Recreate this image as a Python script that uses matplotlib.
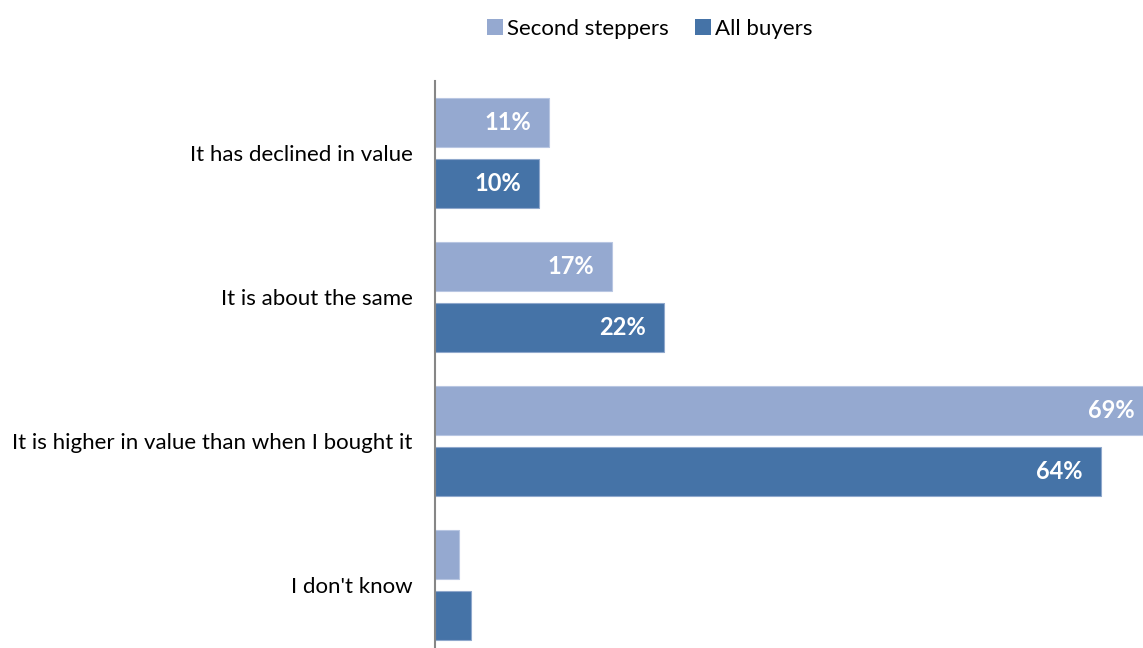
import numpy as np
import matplotlib.pyplot as plt
from matplotlib.patches import Patch

plt.rcParams['font.family'] = ['Lato', 'DejaVu Sans']

categories = [
    "It has declined in value",
    "It is about the same",
    "It is higher in value than when I bought it",
    "I don't know",
]
second_steppers = [11, 17, 69, 2.3]
all_buyers = [10, 22, 64, 3.5]
show_label = [True, True, True, False]

light = '#95A9D0'
dark = '#4573A7'

fig = plt.figure(figsize=(11.43, 6.48), dpi=100)
# axes runs off the right and bottom edges of the canvas
ax = fig.add_axes([435 / 1143, -9 / 648, 1 - 435 / 1143, 576 / 648])

y = np.arange(len(categories))
h = 0.34
off = 0.212
b1 = ax.barh(y - off, second_steppers, height=h, color=light,
             edgecolor='#B8C6E2', linewidth=0.8)
b2 = ax.barh(y + off, all_buyers, height=h, color=dark,
             edgecolor='#8FA8CC', linewidth=0.8)

for bars, vals in [(b1, second_steppers), (b2, all_buyers)]:
    for bar, v, show in zip(bars, vals, show_label):
        if not show:
            continue
        ax.annotate(f"{v:.0f}%", (v, bar.get_y() + bar.get_height() / 2),
                    xytext=(-13, 0), textcoords='offset points',
                    ha='right', va='center', color='white',
                    fontsize=17, fontweight='bold', annotation_clip=False)

ax.set_xlim(0, 708 / 10.4)
ax.set_ylim(3.5, -0.5)
ax.set_yticks(y)
ax.set_yticklabels(categories, fontsize=16)
ax.tick_params(axis='y', length=0, pad=16)
ax.set_xticks([])
for s in ['top', 'right', 'bottom']:
    ax.spines[s].set_visible(False)
ax.spines['left'].set_color('#868686')
ax.spines['left'].set_linewidth(1.5)

handles = [Patch(facecolor=light, label='Second steppers'),
           Patch(facecolor=dark, label='All buyers')]
fig.legend(handles=handles, loc='center', ncol=2, frameon=False,
           bbox_to_anchor=(650 / 1143, 1 - 29 / 648), fontsize=16,
           handlelength=0.7, handleheight=0.7, handletextpad=0.2,
           columnspacing=1.2)

plt.savefig('out.png', dpi=100)
